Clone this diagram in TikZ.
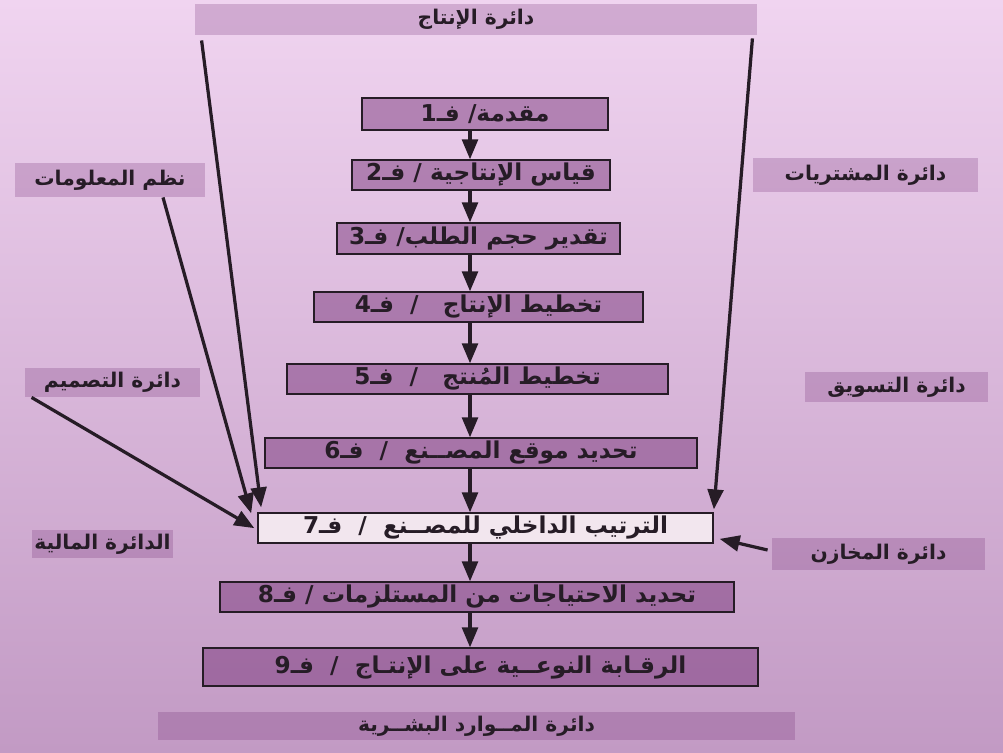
\documentclass[tikz,border=0pt]{standalone}
\usepackage{fontspec}
\usepackage{tikz}
\usetikzlibrary{arrows,shapes,calc}
\TeXXeTstate=1
\newfontfamily\arabicfont[Script=Arabic]{DejaVu Sans}
\definecolor{bgtop}{RGB}{240,212,240}
\definecolor{bgbot}{RGB}{194,154,196}
\definecolor{boxcolor}{RGB}{112,42,114}
\definecolor{linecolor}{RGB}{38,28,38}
\definecolor{lightbox}{RGB}{242,230,238}
\newcommand{\arabtxt}[1]{\arabicfont\bfseries\beginR #1\endR}

\begin{document}
\begin{tikzpicture}[x=0.025cm,y=-0.025cm,>=triangle 45,semithick,text=linecolor]
\tikzstyle{fasl}=[draw=linecolor,line width=1.3pt,fill=boxcolor,fill opacity=0.45,text opacity=1,inner sep=2pt,font=\fontsize{16.5}{20}\selectfont]
\tikzstyle{dept}=[fill=boxcolor,fill opacity=0.24,text opacity=1,inner sep=2pt,font=\Large]
\tikzstyle{flow}=[->,draw=linecolor,line width=2.3pt]
\tikzset{wd/.style={minimum width=#1*0.025cm},ht/.style={minimum height=#1*0.025cm}}
  % page
  \shade[top color=bgtop,bottom color=bgbot] (0,0) rectangle (1003,752);
  \useasboundingbox (0,0) rectangle (1003,752);
  % departments round the chart
  \node[dept,wd=562,ht=31] (prod) at (476,19.5) {\arabtxt{دائرة الإنتاج}};
  \node[dept,wd=190,ht=34] (info) at (110,180) {\arabtxt{نظم المعلومات}};
  \node[dept,wd=175,ht=29] (design) at (112.5,382.5) {\arabtxt{دائرة التصميم}};
  \node[dept,wd=141,ht=28] (finance) at (102.5,544) {\arabtxt{الدائرة المالية}};
  \node[dept,wd=225,ht=34] (purch) at (865.5,175) {\arabtxt{دائرة المشتريات}};
  \node[dept,wd=183,ht=30] (market) at (896.5,387) {\arabtxt{دائرة التسويق}};
  \node[dept,wd=213,ht=32] (stores) at (878.5,554) {\arabtxt{دائرة المخازن}};
  \node[dept,wd=637,ht=28] (hr) at (476.5,726) {\arabtxt{دائرة المــوارد البشــرية}};
  % chapters
  \node[fasl,wd=246,ht=32] (f1) at (485,114) {\arabtxt{مقدمة/ فـ1}};
  \node[fasl,wd=258,ht=30] (f2) at (481,175) {\arabtxt{قياس الإنتاجية / فـ2}};
  \node[fasl,wd=283,ht=31] (f3) at (478.5,238.5) {\arabtxt{تقدير حجم الطلب/ فـ3}};
  \node[fasl,wd=329,ht=30] (f4) at (478.5,307) {\arabtxt{تخطيط الإنتاج \ \ /\ \ فـ4}};
  \node[fasl,wd=381,ht=30] (f5) at (477.5,379) {\arabtxt{تخطيط المُنتج \ \ /\ \ فـ5}};
  \node[fasl,wd=432,ht=30] (f6) at (481,453) {\arabtxt{تحديد موقع المصــنع \ /\ \ فـ6}};
  \node[fasl,wd=455,ht=30,fill=lightbox,fill opacity=1] (f7) at (485.5,528) {\arabtxt{الترتيب الداخلي للمصــنع \ /\ \ فـ7}};
  \node[fasl,wd=514,ht=30] (f8) at (477,597) {\arabtxt{تحديد الاحتياجات من المستلزمات / فـ8}};
  \node[fasl,wd=555,ht=38] (f9) at (480.5,667) {\arabtxt{الرقـابة النوعــية على الإنتـاج \ /\ \ فـ9}};
  \coordinate (spine) at (470,0);
  \foreach \a/\b in {f1/f2,f2/f3,f3/f4,f4/f5,f5/f6,f6/f7,f7/f8,f8/f9}
    \draw[flow] (\a.south -| spine) -- (\b.north -| spine);
  % lines into chapter 7
  \draw[flow] ($(prod.south west)+(7,5)$) -- ($(f7.north west)+(4,-5)$);
  \draw[flow] ($(prod.south east)+(-5,3)$) -- ($(f7.north east)+(0,-3)$);
  \draw[flow] ($(info.south)+(53,0)$) -- ($(f7.north west)+(-6,1)$);
  \draw[flow] ($(design.south west)+(7,0)$) -- ($(f7.west)+(-3,0)$);
  \draw[flow] ($(stores.west)+(-4,-4)$) -- ($(f7.south east)+(6,-5)$);
\end{tikzpicture}
\end{document}
